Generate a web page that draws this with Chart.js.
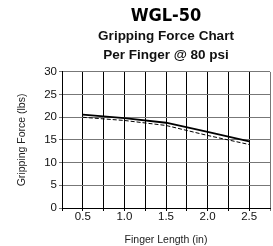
<!DOCTYPE html>
<html>
<head>
<meta charset="utf-8">
<script src="https://cdn.jsdelivr.net/npm/chart.js@4/dist/chart.umd.min.js"></script>
<style>
  html, body { margin: 0; padding: 0; background: #fff; }
  #wrap { width: 273px; height: 246px; }
</style>
</head>
<body>
<div id="wrap"><canvas id="gripChart"></canvas></div>
<script>
const fingerLengths = [0.5, 1.0, 1.5, 2.0, 2.5];
const forceSolid    = [20.6, 19.8, 18.8, 16.8, 14.7];
const forceDashed   = [20.0, 19.3, 18.2, 16.0, 14.0];
const yTicks        = [0, 5, 10, 15, 20, 25, 30];

const toPoints = (ys) => fingerLengths.map((x, i) => ({ x: x, y: ys[i] }));

const ctx = document.getElementById("gripChart");

new Chart(ctx, {
  type: "line",
  data: {
    datasets: [
      {
        data: toPoints(forceSolid),
        borderColor: "#000",
        borderWidth: 1.8,
        pointRadius: 0,
        tension: 0
      },
      {
        data: toPoints(forceDashed),
        borderColor: "#000",
        borderWidth: 1,
        borderDash: [4, 2],
        pointRadius: 0,
        tension: 0
      }
    ]
  },
  options: {
    responsive: true,
    maintainAspectRatio: false,
    animation: false,
    layout: { padding: { left: 0, right: 3, top: 0, bottom: 0 } },
    plugins: {
      legend: { display: false },
      tooltip: { enabled: false },
      title: {
        display: true,
        fullSize: false,
        text: "WGL-50",
        color: "#000",
        font: { family: "'DejaVu Sans Condensed', Arial", size: 18, weight: "bold", lineHeight: 1.25 },
        padding: { top: 5, bottom: 0 }
      },
      subtitle: {
        display: true,
        fullSize: false,
        text: ["Gripping Force Chart", "Per Finger @ 80 psi"],
        color: "#111",
        font: { family: "'Liberation Sans', Arial", size: 13.5, weight: "bold", lineHeight: 1.35 },
        padding: { top: 0, bottom: 8 }
      }
    },
    scales: {
      x: {
        type: "linear",
        min: 0.25,
        max: 2.75,
        afterFit: (s) => { s.height = 38; },
        ticks: {
          stepSize: 0.25,
          color: "#111",
          padding: -1,
          maxRotation: 0,
          autoSkip: false,
          font: { family: "'Liberation Sans', Arial", size: 11.5 },
          callback: (v) => (Math.abs(v * 2 - Math.round(v * 2)) < 1e-6 && v > 0.3 && v < 2.7) ? v.toFixed(1) : ""
        },
        grid: {
          color: (c) => (c.tick && c.tick.value > 2.7 ? "#777" : "#000"),
          lineWidth: 1,
          tickLength: 3
        },
        border: { color: "#000", width: 1 },
        title: {
          display: true,
          text: "Finger Length (in)",
          color: "#222",
          font: { family: "'Liberation Sans', Arial", size: 10.5 },
          padding: { top: 1, bottom: 0 }
        }
      },
      y: {
        min: 0,
        max: 30,
        afterFit: (s) => { s.width = 62; },
        afterBuildTicks: (s) => { s.ticks = yTicks.map(v => ({ value: v })); },
        ticks: {
          color: "#111",
          padding: 2,
          font: { family: "'Liberation Sans', Arial", size: 11.5 }
        },
        grid: { color: "#777", lineWidth: 1, tickLength: 3 },
        border: { color: "#000", width: 1 },
        title: {
          display: true,
          text: "Gripping Force (lbs)",
          color: "#222",
          font: { family: "'Liberation Sans', Arial", size: 10.5 },
          padding: { top: 16, bottom: 0 }
        }
      }
    }
  }
});
</script>
</body>
</html>
